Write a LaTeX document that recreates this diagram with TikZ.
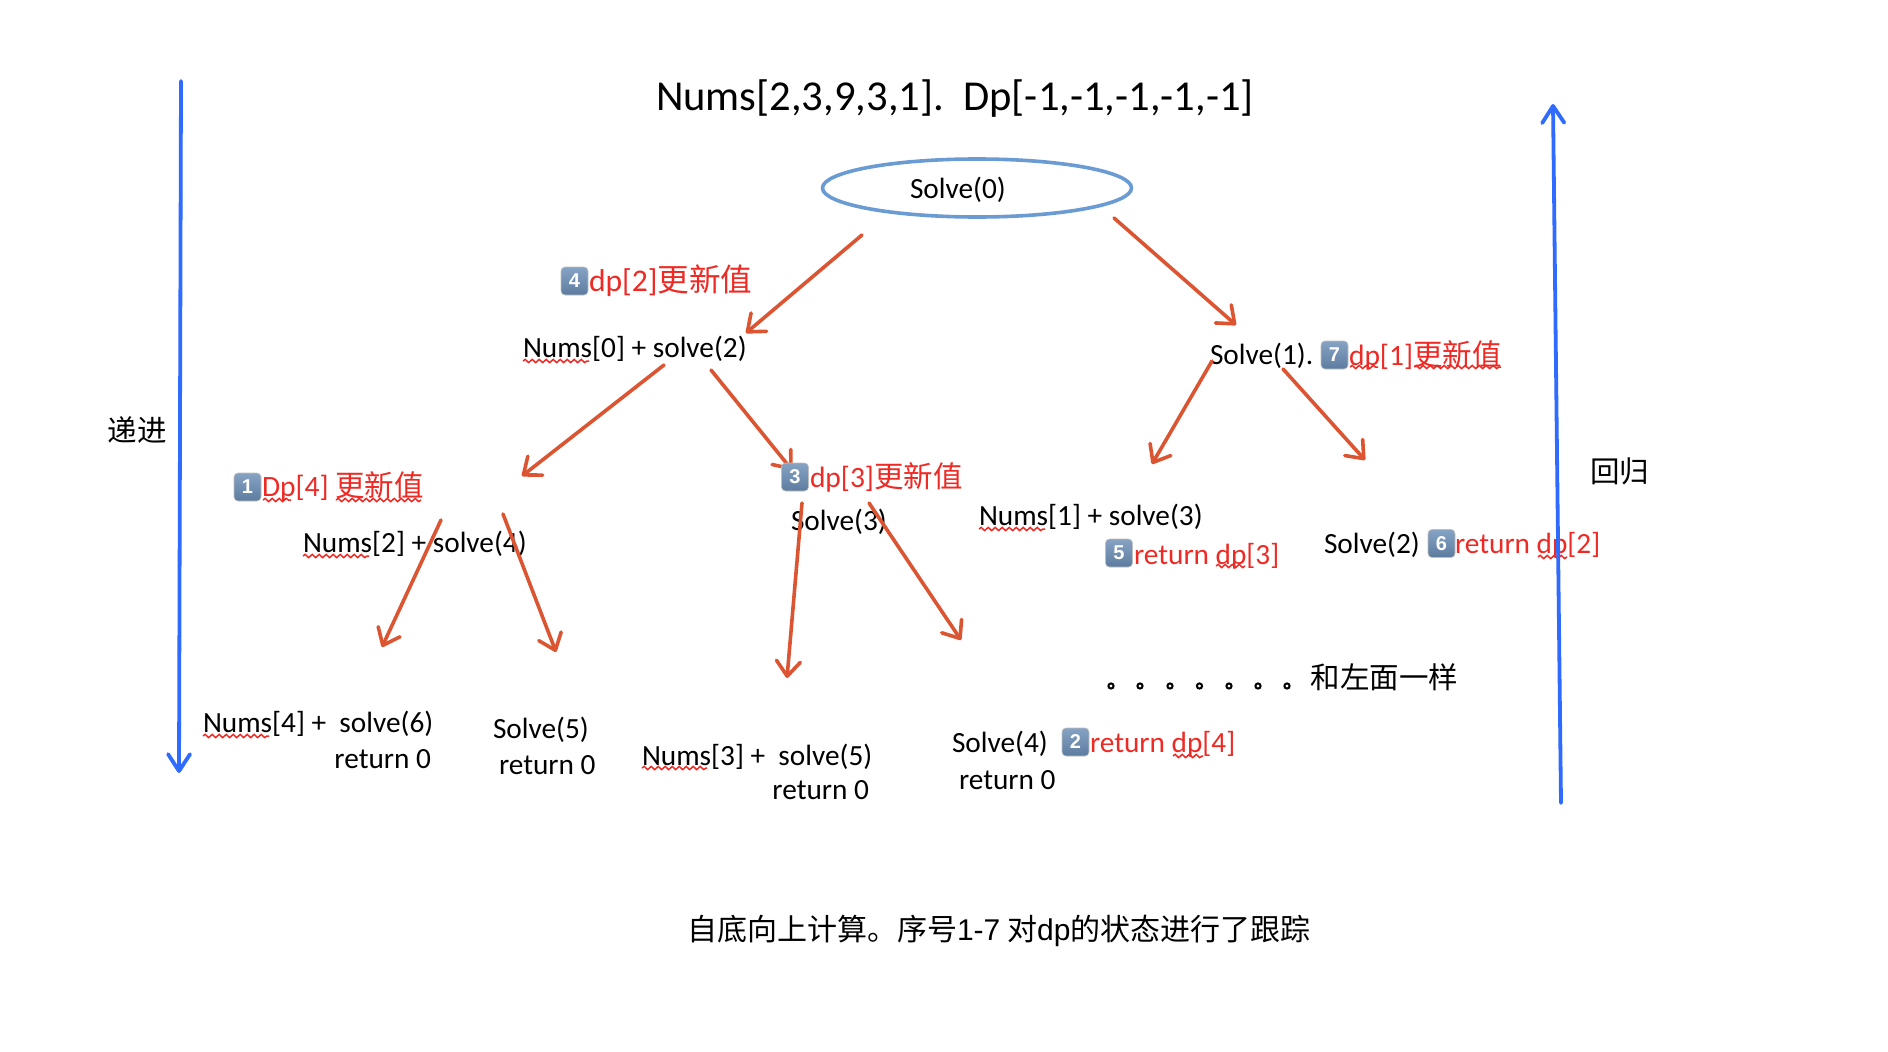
\documentclass[tikz,border=0pt]{standalone}
\usepackage{fontspec}
\setmainfont{Carlito}
\newfontfamily\cjk{Noto Sans CJK SC}
\newfontfamily\badgefont{Liberation Sans}
\usetikzlibrary{arrows.meta,decorations.pathmorphing,shapes.geometric}
\definecolor{redarrow}{HTML}{DC5533}
\definecolor{bluearrow}{HTML}{2F6BFF}
\definecolor{ovalblue}{HTML}{6A9BD2}
\definecolor{labelred}{HTML}{EE2A24}
\definecolor{badgetop}{HTML}{86A3C4}
\definecolor{badgebot}{HTML}{5C7C9F}
\newcommand{\zh}[1]{{\cjk #1}}
\tikzset{
  lbl/.style={anchor=base west,inner sep=0pt,outer sep=0pt,text=black,font=\fontsize{29.3}{31}\selectfont},
  redlbl/.style={lbl,text=labelred},
  biglbl/.style={redlbl,font=\fontsize{29.5}{31}\selectfont},
  zhlbl/.style={anchor=center,inner sep=0pt,text=black,font=\cjk\fontsize{29.5}{31}\selectfont},
  badge/.style={draw=white!75!black,line width=0.6pt,rounded corners=4pt,top color=badgetop,bottom color=badgebot,minimum width=27pt,minimum height=28pt,inner sep=0pt,text=white,font=\badgefont\bfseries\fontsize{20}{21}\selectfont},
  redarr/.style={draw=redarrow,line width=3.6pt,line cap=round,-{Straight Barb[length=15pt,width=24pt,round]}},
  bluearr/.style={draw=bluearrow,line width=3.8pt,line cap=round,-{Straight Barb[length=17pt,width=22pt,round]}},
  wavy/.style={draw=labelred,line width=1.5pt,decorate,decoration={snake,amplitude=1.6pt,segment length=7pt}},
}
\begin{document}
\begin{tikzpicture}[x=1pt,y=-1pt]
\fill[white] (0,0) rectangle (1888,1052);
\useasboundingbox (0,0) rectangle (1888,1052);
% title and root
\node[lbl,font=\fontsize{42.6}{45}\selectfont] (title) at (656,110) {Nums[2,3,9,3,1].\ \ Dp[-1,-1,-1,-1,-1]};
\node[ellipse,draw=ovalblue,line width=3.6pt,minimum width=309pt,minimum height=58pt,inner sep=0pt] (root) at (977,188) {};
\node[lbl] (s0) at (910,198) {Solve(0)};
% black labels
\node[lbl] (n0) at (523,357) {Nums[0] + solve(2)};
\node[lbl] (s1) at (1210,364) {Solve(1).};
\node[lbl] (n2) at (303,552) {Nums[2] + solve(4)};
\node[lbl] (s3) at (791,530) {Solve(3)};
\node[lbl] (n1) at (979,525) {Nums[1] + solve(3)};
\node[lbl] (s2) at (1324,553) {Solve(2)};
\node[lbl] (n4) at (203,732) {Nums[4] +\ \ solve(6)};
\node[lbl,anchor=base east] (r4) at (431,768) {return 0};
\node[lbl] (s5) at (493,738) {Solve(5)};
\node[lbl] (r5) at (499,774) {return 0};
\node[lbl] (n3) at (642,765) {Nums[3] +\ \ solve(5)};
\node[lbl,anchor=base east] (r3) at (869,799) {return 0};
\node[lbl] (s4) at (952,752) {Solve(4)};
\node[lbl] (r44) at (959,789) {return 0};
% red labels
\node[biglbl,font=\fontsize{31.6}{33}\selectfont] (d2) at (589,291) {dp[2]\zh{更新值}};
\node[biglbl] (d4) at (262,496) {Dp[4] \zh{更新值}};
\node[biglbl] (d1) at (1349,365) {dp[1]\zh{更新值}};
\node[redlbl] (rd3) at (1134,564) {return dp[3]};
\node[redlbl] (rd2) at (1455,553) {return dp[2]};
\node[redlbl] (rd4) at (1090,752) {return dp[4]};
% badges
\node[badge] (b1) at (247.5,487) {1};
\node[badge] (b2) at (1075.5,742) {2};
\node[badge] (b4) at (574.5,281) {4};
\node[badge] (b5) at (1119,553) {5};
\node[badge] (b6) at (1441.5,543.5) {6};
\node[badge] (b7) at (1334.5,355) {7};
% side labels and notes
\node[zhlbl] (down) at (137,430) {递进};
\node[zhlbl] (up) at (1619.5,471) {回归};
\node[zhlbl] (same) at (1384.5,677) {和左面一样};
\node[lbl,font=\cjk\fontsize{30}{32}\selectfont] (note) at (687,940) {自底向上计算。序号{\badgefont 1-7} 对{\badgefont dp}的状态进行了跟踪};
% dots
\foreach \dx in {1111,1140,1170,1199.5,1229,1258,1287}
  \draw[line width=2pt,black] (\dx,686) circle (2.6pt);
% spell-check underlines
\draw[wavy] (523,361) -- (589,361);
\draw[wavy] (303,556) -- (369,556);
\draw[wavy] (203,736) -- (269,736);
\draw[wavy] (642,768) -- (707,768);
\draw[wavy] (979,529) -- (1045,529);
\draw[wavy] (263,500) -- (291,500);
\draw[wavy] (336,500) -- (421,500);
\draw[wavy] (1350,367) -- (1378,367);
\draw[wavy] (1414,367) -- (1501,367);
\draw[wavy] (1538,557) -- (1567,557);
\draw[wavy] (1216,566) -- (1245,566);
\draw[wavy] (1173,756) -- (1203,756);
% connector ends
\coordinate (a1s) at (862,235);   \coordinate (a1e) at (746,333);
\coordinate (a2s) at (1114,218);  \coordinate (a2e) at (1236,325);
\coordinate (a3s) at (664,365);   \coordinate (a3e) at (522,476);
\coordinate (a4s) at (711,370);   \coordinate (a4e) at (792,470);
\coordinate (a5s) at (1212,361);  \coordinate (a5e) at (1152,464);
\coordinate (a6s) at (1283,369);  \coordinate (a6e) at (1365,460);
\coordinate (a7s) at (441,520);   \coordinate (a7e) at (382,647);
\coordinate (a8s) at (503,514);   \coordinate (a8e) at (556,652);
\coordinate (a9s) at (802,503);   \coordinate (a9e) at (787,678);
\coordinate (a10s) at (869,503);  \coordinate (a10e) at (961,640);
\coordinate (dns) at (181,81);    \coordinate (dne) at (179,773);
\coordinate (ups) at (1561,803);  \coordinate (upe) at (1553,104);
\draw[redarr] (a1s) -- (a1e);
\draw[redarr] (a2s) -- (a2e);
\draw[redarr] (a3s) -- (a3e);
\draw[redarr] (a4s) -- (a4e);
\draw[redarr] (a5s) -- (a5e);
\draw[redarr] (a6s) -- (a6e);
\draw[redarr] (a7s) -- (a7e);
\draw[redarr] (a8s) -- (a8e);
\draw[redarr] (a9s) -- (a9e);
\draw[redarr] (a10s) -- (a10e);
\draw[bluearr] (dns) -- (dne);
\draw[bluearr] (ups) -- (upe);
% label drawn over the arrow it touches
\node[badge] (b3) at (795,477) {3};
\node[biglbl] (d3) at (810,487) {dp[3]\zh{更新值}};
\end{tikzpicture}
\end{document}
